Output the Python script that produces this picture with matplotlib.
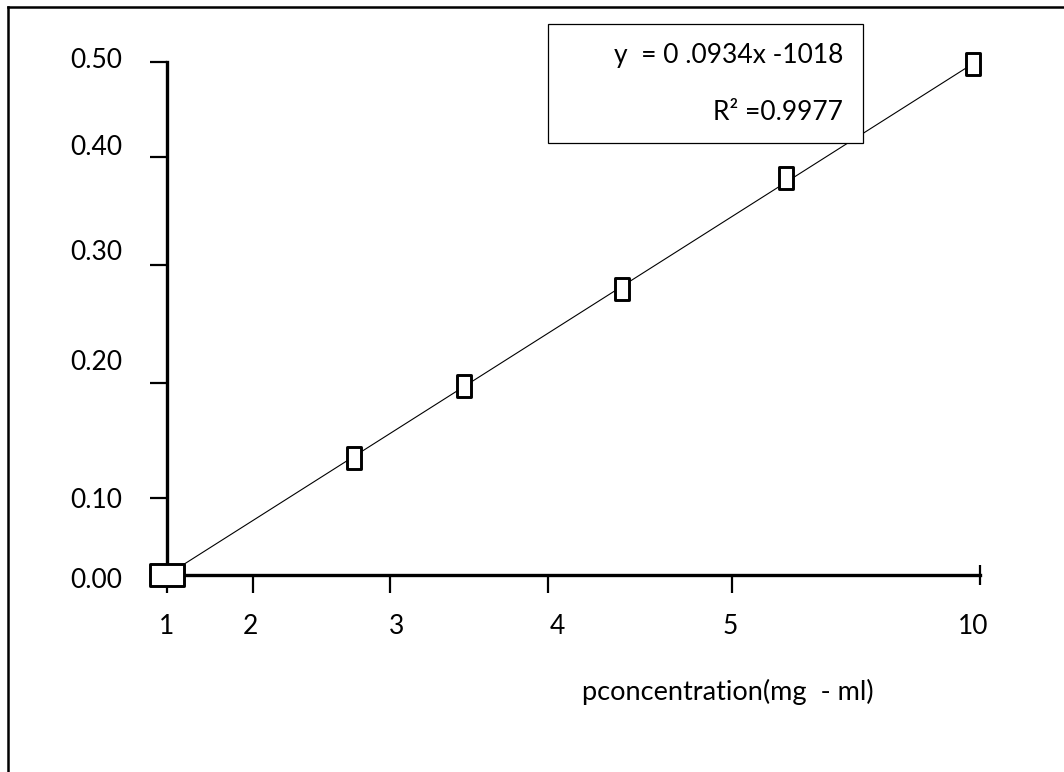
import numpy as np
import matplotlib
matplotlib.use("Agg")
import matplotlib.pyplot as plt
from matplotlib.path import Path
from matplotlib.patches import Rectangle
from matplotlib.lines import Line2D

plt.rcParams['font.family'] = ['Lato', 'DejaVu Sans']

# data
conc = [1.0, 2.74, 3.47, 4.40, 6.09, 9.85]
absorb = [0.00, 0.135, 0.197, 0.280, 0.381, 0.498]

x_ticks = [1, 2, 3, 4, 5, 10]
x_labels = ['1', '2', '3', '4', '5', '10']
y_ticks = [0.0, 0.1, 0.2, 0.3, 0.4, 0.5]
y_labels = ['0.00', '0.10', '0.20', '0.30', '0.40', '0.50']

eq_text = 'y  = 0 .0934x -1018'
r2_text = 'R\u00b2 =0.9977'
x_title = 'pconcentration(mg  - ml)'

# the axes in the original are hand spaced, so the scales are piecewise
x_px = [167, 253, 390, 548, 732, 980]
y_px = [-575, -498, -383, -265, -157, -62]

W, H = 1064, 772
fig = plt.figure(figsize=(W / 100, H / 100), dpi=100)
ax = fig.add_axes([167 / W, 1 - 575 / H, (980 - 167) / W, (575 - 62) / H])

ax.set_xscale('function', functions=(lambda v: np.interp(v, x_ticks, x_px),
                                     lambda p: np.interp(p, x_px, x_ticks)))
ax.set_yscale('function', functions=(lambda v: np.interp(v, y_ticks, y_px),
                                     lambda p: np.interp(p, y_px, y_ticks)))
ax.set_xlim(1, 10)
ax.set_ylim(0, 0.5)

# trend line and markers
ax.plot([conc[0], conc[-1]], [absorb[0], absorb[-1]], color='black', lw=0.8, zorder=2)
tall_box = Path([(-1/3, -0.5), (1/3, -0.5), (1/3, 0.5), (-1/3, 0.5), (-1/3, -0.5)],
                [Path.MOVETO, Path.LINETO, Path.LINETO, Path.LINETO, Path.CLOSEPOLY])
wide_box = Path([(-0.5, -1/3), (0.5, -1/3), (0.5, 1/3), (-0.5, 1/3), (-0.5, -1/3)],
                [Path.MOVETO, Path.LINETO, Path.LINETO, Path.LINETO, Path.CLOSEPOLY])
ax.plot(conc[1:], absorb[1:], ls='none', marker=tall_box, ms=16, mfc='white',
        mec='black', mew=2.1, clip_on=False, zorder=5)
ax.plot(conc[:1], absorb[:1], ls='none', marker=wide_box, ms=24, mfc='white',
        mec='black', mew=2.1, clip_on=False, zorder=5)

for s in ['top', 'right']:
    ax.spines[s].set_visible(False)
for s in ['left', 'bottom']:
    ax.spines[s].set_linewidth(2.4)

ax.set_xticks(x_ticks[:-1])
ax.set_xticks(x_ticks[-1:], minor=True)
ax.set_yticks(y_ticks)
ax.tick_params(axis='x', which='major', direction='out', length=13, width=1.6,
               labelbottom=False)
ax.tick_params(axis='x', which='minor', direction='inout', length=15, width=1.6,
               labelbottom=False)
ax.tick_params(axis='y', direction='out', length=12, width=1.6, labelleft=False)

# tick labels sit a little off the ticks in the original
x_nudge = [0, -3, 7, 9, -2, -7]
y_nudge = [-5, -2, 21, 13, 10, 2]
for v, lab, dx in zip(x_ticks, x_labels, x_nudge):
    ax.annotate(lab, xy=(v, 0), xycoords=('data', 'axes fraction'),
                xytext=(dx, -52), textcoords='offset pixels',
                ha='center', va='center', fontsize=19)
for v, lab, dy in zip(y_ticks, y_labels, y_nudge):
    ax.annotate(lab, xy=(0, v), xycoords=('axes fraction', 'data'),
                xytext=(-45, dy), textcoords='offset pixels',
                ha='right', va='center', fontsize=19)

ax.set_xlabel(x_title, fontsize=19.5, va='center')
ax.xaxis.set_label_coords((728 - 167) / (980 - 167), (575 - 692) / (575 - 62))

# equation box
fig.add_artist(Rectangle((548 / W, 1 - 143 / H), 315 / W, 119 / H,
                         transform=fig.transFigure, facecolor='white',
                         edgecolor='black', lw=0.9, zorder=3))
fig.text(843 / W, 1 - 55 / H, eq_text, ha='right', va='center', fontsize=19, zorder=4)
fig.text(843 / W, 1 - 112 / H, r2_text, ha='right', va='center', fontsize=19, zorder=4)

# outer frame (runs off the right and bottom edges)
fig.add_artist(Line2D([8 / W, 1], [1 - 7 / H, 1 - 7 / H], color='black', lw=1.8,
                      transform=fig.transFigure))
fig.add_artist(Line2D([8 / W, 8 / W], [0, 1 - 7 / H], color='black', lw=1.8,
                      transform=fig.transFigure))

fig.savefig('out.png', dpi=100)
